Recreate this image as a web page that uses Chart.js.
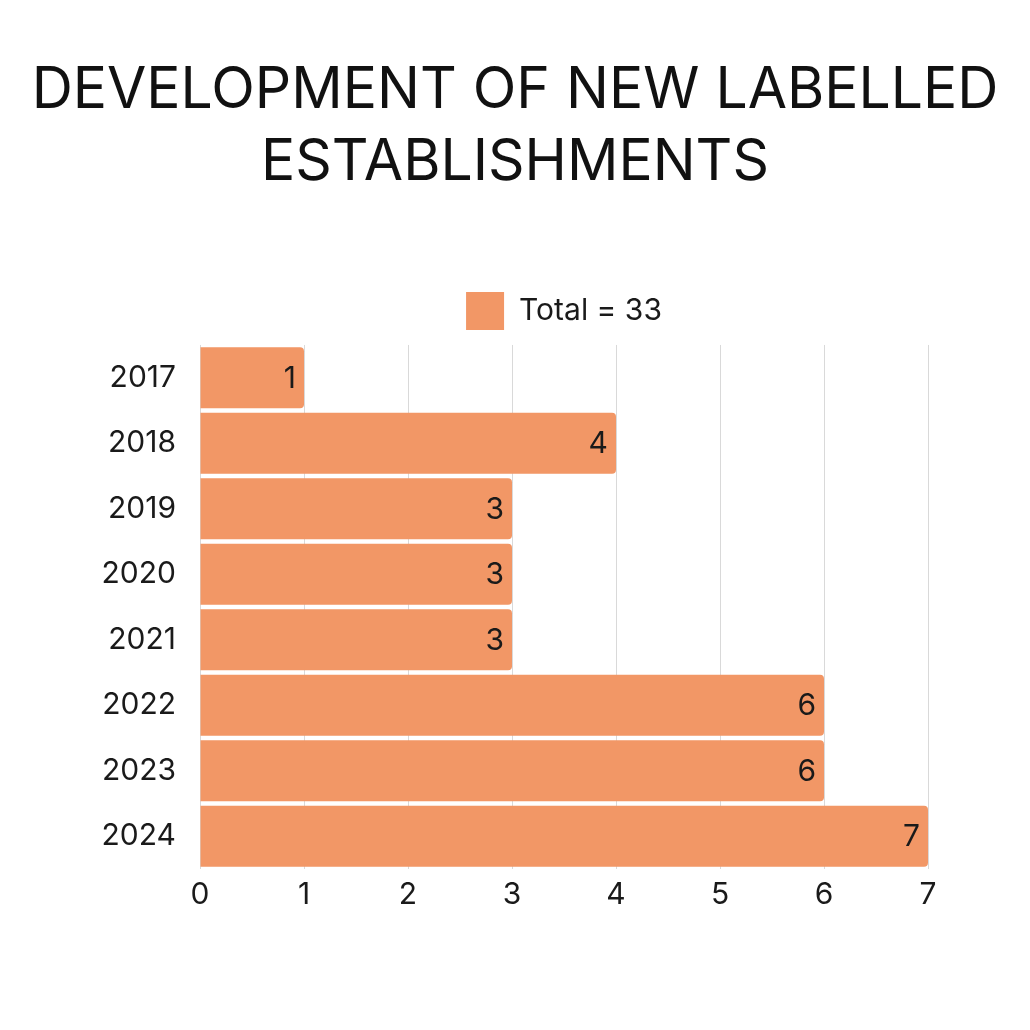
<!DOCTYPE html>
<html>
<head>
<meta charset="utf-8">
<script src="https://cdn.jsdelivr.net/npm/chart.js@4/dist/chart.umd.min.js"></script>
<style>
  html, body { margin: 0; padding: 0; background: #fff; }
</style>
</head>
<body>
<canvas id="chart1" width="1030" height="1030"></canvas>
<script>
    "use strict";

    // data
    var years = ["2017", "2018", "2019", "2020", "2021", "2022", "2023", "2024"];
    var newEstablishments = [1, 4, 3, 3, 3, 6, 6, 7];
    var legendLabel = "Total = 33";
    var titleLines = ["DEVELOPMENT OF NEW LABELLED", "ESTABLISHMENTS"];

    var fontName = "Inter, 'Open Sans', sans-serif";
    var barColor = "#F29766";

    // value at the end of every bar
    var barValues = {
        id: 'barValues',
        afterDatasetsDraw: function(chart) {
            var ctx = chart.ctx;
            var meta = chart.getDatasetMeta(0);
            ctx.save();
            ctx.font = "400 30px " + fontName;
            ctx.fillStyle = "#1a1a1a";
            ctx.textAlign = "right";
            ctx.textBaseline = "middle";
            meta.data.forEach(function(bar, i) {
                ctx.fillText(chart.data.datasets[0].data[i], bar.x - 8, bar.y + 1);
            });
            ctx.restore();
        }
    };

    var ctx = document.getElementById('chart1').getContext('2d');
    var myChart = new Chart(ctx, {
        type: 'bar',
        data: {
            labels: years,
            datasets: [{
                label: legendLabel,
                data: newEstablishments,
                backgroundColor: barColor,
                borderWidth: 0,
                borderRadius: 4,
                borderSkipped: 'start',
                barPercentage: 0.93,
                categoryPercentage: 1.0,
                xAxisID: 'x',
                yAxisID: 'y'
            }]
        },
        options: {
            indexAxis: 'y',
            responsive: false,
            animation: false,
            layout: {
                padding: { left: 0, right: 0, top: 0, bottom: 109 }
            },
            plugins: {
                title: {
                    display: true,
                    text: titleLines,
                    color: "#111",
                    font: { family: fontName, size: 57, weight: '400', lineHeight: 1.263 },
                    padding: { top: 55, bottom: 77 }
                },
                legend: {
                    display: true,
                    position: 'top',
                    fullSize: false,
                    labels: {
                        color: "#1a1a1a",
                        boxWidth: 38,
                        boxHeight: 38,
                        padding: 16,
                        font: { family: fontName, size: 30 }
                    }
                },
                tooltip: { enabled: false }
            },
            scales: {
                x: {
                    min: 0,
                    max: 7,
                    ticks: {
                        stepSize: 1,
                        color: "#1a1a1a",
                        padding: 8,
                        font: { family: fontName, size: 30 }
                    },
                    grid: {
                        display: true,
                        drawTicks: false,
                        color: "#d9d9d9"
                    },
                    border: { display: false }
                },
                // small empty gap between the legend and the bars
                xTop: {
                    position: 'top',
                    afterFit: function(scale) {
                        scale.height = 5;
                    },
                    ticks: { display: false },
                    grid: { display: false, drawTicks: false },
                    border: { display: false }
                },
                y: {
                    afterFit: function(scale) {
                        scale.width = 200;
                    },
                    ticks: {
                        color: "#1a1a1a",
                        padding: 24,
                        font: { family: fontName, size: 30 }
                    },
                    grid: {
                        display: false,
                        drawTicks: false
                    },
                    border: { display: false }
                },
                // empty right-hand margin so the title stays centred on the page
                yRight: {
                    position: 'right',
                    afterFit: function(scale) {
                        scale.width = 102;
                    },
                    ticks: { display: false },
                    grid: { display: false, drawTicks: false },
                    border: { display: false }
                }
            }
        },
        plugins: [barValues]
    });
</script>
</body>
</html>
